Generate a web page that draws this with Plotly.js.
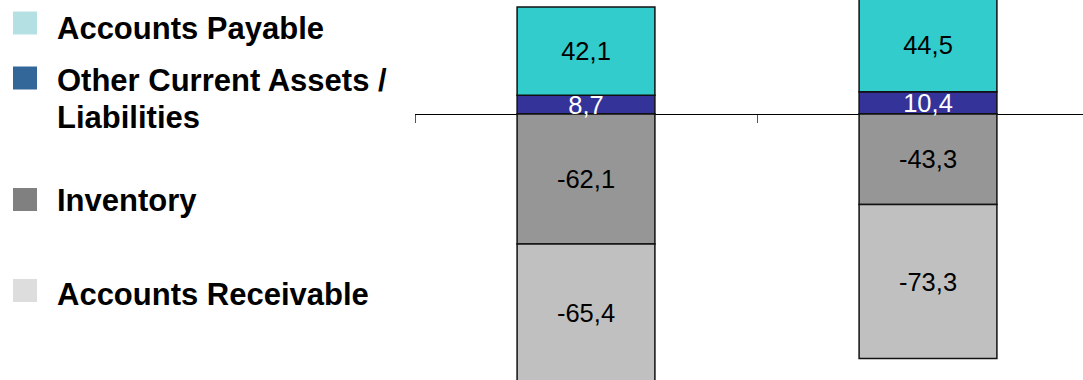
<!DOCTYPE html>
<html>
<head>
<meta charset="utf-8">
<script src="https://cdn.plot.ly/plotly-3.0.1.min.js"></script>
<style>
  html, body { margin: 0; padding: 0; background: #fff; }
  #chart { width: 1083px; height: 380px; }
</style>
</head>
<body>
<div id="chart"></div>
<script>
// Working capital components, two periods (stacked around zero)
const periods = [0, 1];
const otherCurrent = [8.7, 10.4];
const accountsPayable = [42.1, 44.5];
const inventory = [-62.1, -43.3];
const accountsReceivable = [-65.4, -73.3];

// Legend entries (top to bottom)
const legendLabels = [
  ["Accounts Payable"],
  ["Other Current Assets /", "Liabilities"],
  ["Inventory"],
  ["Accounts Receivable"]
];
const legendColors = ["#B5E0E3", "#336699", "#808080", "#DDDDDD"];

const fmt = v => v.toFixed(1).replace(".", ",");

const W = 1083, H = 380, L = 415;
const plotW = W - L;
const px = p => (p - L) / plotW;      // pixel x -> paper x
const py = p => (H - p) / H;          // pixel y -> paper y

function barTrace(name, vals, color, textColor) {
  return {
    type: "bar",
    name: name,
    x: periods,
    y: vals,
    width: 0.403,
    text: vals.map(fmt),
    textposition: "inside",
    insidetextanchor: "middle",
    textangle: 0,
    insidetextfont: { family: "Liberation Sans, Arial, sans-serif", size: 25.5, color: textColor },
    marker: { color: color, line: { color: "#111", width: 1.5 } },
    hoverinfo: "skip",
    showlegend: false
  };
}

// Negative stacks first so the small positive labels sit on top of the grey bars
const traces = [
  barTrace("Inventory", inventory, "#969696", "#000000"),
  barTrace("Accounts Receivable", accountsReceivable, "#C0C0C0", "#000000"),
  barTrace("Other Current Assets / Liabilities", otherCurrent, "#333399", "#ffffff"),
  barTrace("Accounts Payable", accountsPayable, "#33CCCC", "#000000")
];

// Legend squares and bold labels
const markerCenters = [23, 78, 199.5, 290.5];
const textCenters = [[28], [80, 117.5], [200.5], [294]];
const shapes = [];
const annotations = [];
legendLabels.forEach((lines, i) => {
  const c = markerCenters[i];
  shapes.push({
    type: "rect", xref: "paper", yref: "paper",
    x0: px(13), x1: px(37), y0: py(c + 11.5), y1: py(c - 11.5),
    fillcolor: legendColors[i], line: { width: 0 }
  });
  lines.forEach((t, j) => {
    annotations.push({
      xref: "paper", yref: "paper",
      x: px(55), y: py(textCenters[i][j]),
      xanchor: "left", yanchor: "middle",
      text: "<b>" + t + "</b>", showarrow: false,
      font: { family: "Liberation Sans, Arial, sans-serif", size: 31, color: "#000" }
    });
  });
});

const layout = {
  width: W, height: H,
  margin: { l: L, r: 0, t: 0, b: 0, pad: 0 },
  paper_bgcolor: "#fff", plot_bgcolor: "#fff",
  barmode: "relative",
  bargap: 0,
  uniformtext: { mode: "show", minsize: 25.5 },
  showlegend: false,
  xaxis: {
    range: [-0.5, -0.5 + plotW / 342],
    anchor: "free", position: py(113.7),
    showline: true, linecolor: "#000", linewidth: 1,
    tickmode: "array", tickvals: [-0.5, 0.5],
    ticks: "outside", ticklen: 8, tickwidth: 1, tickcolor: "#555",
    showticklabels: false, showgrid: false, zeroline: false,
    layer: "below traces", fixedrange: true
  },
  yaxis: {
    range: [-126.8, 54.1],
    visible: false, showgrid: false, zeroline: false, fixedrange: true
  },
  shapes: shapes,
  annotations: annotations
};

Plotly.newPlot("chart", traces, layout, { staticPlot: true, displayModeBar: false });
</script>
</body>
</html>
